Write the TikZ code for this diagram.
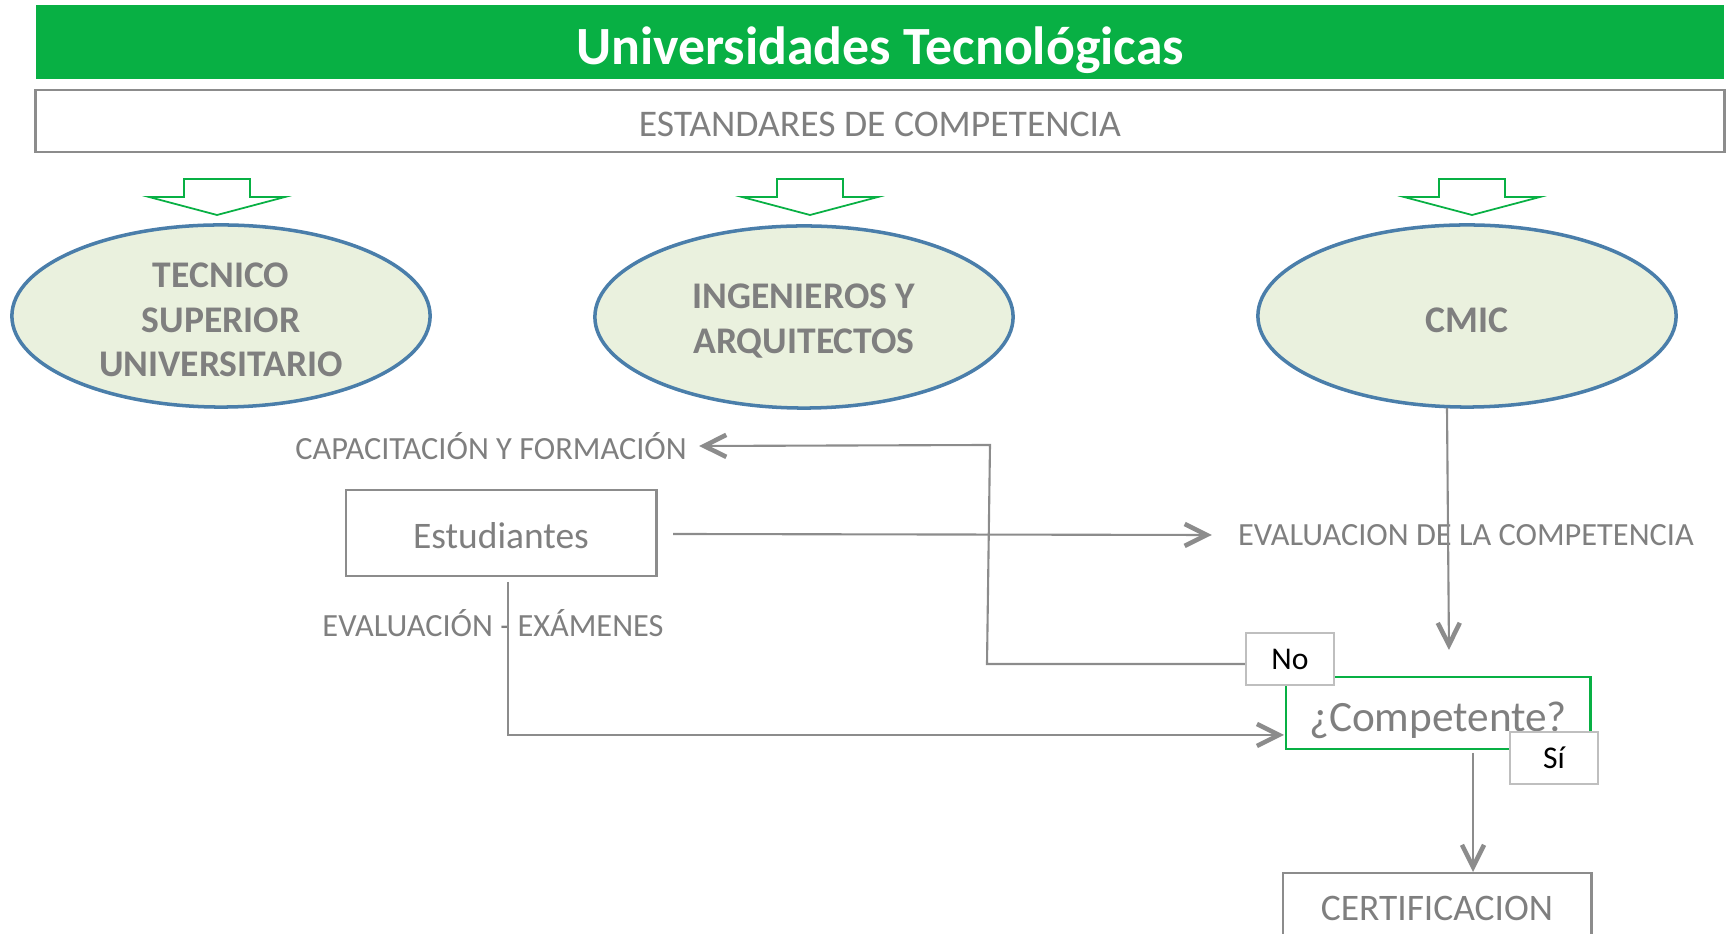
\documentclass[tikz,border=0pt]{standalone}
\usepackage{fontspec}
\setmainfont{Carlito}
\usetikzlibrary{arrows.meta,shapes.geometric}

\definecolor{utgreen}{RGB}{8,176,68}
\definecolor{txtgray}{RGB}{127,127,127}
\definecolor{linegray}{RGB}{140,140,140}
\definecolor{ovalfill}{RGB}{234,241,222}
\definecolor{ovalline}{RGB}{74,126,170}

\tikzset{
	oval/.style={ellipse, draw=ovalline, line width=1pt, fill=ovalfill,
		minimum width=4.18cm, minimum height=1.82cm, inner sep=0pt},
	ovaltext/.style={text=txtgray, align=center, font=\fontsize{10.7}{12.6}\selectfont\bfseries},
	graybox/.style={draw=linegray, line width=0.8pt},
	boxtext/.style={text=txtgray, font=\fontsize{10.65}{12}\selectfont},
	tag/.style={draw=black!25, line width=0.6pt, fill=white,
		minimum width=0.88cm, minimum height=0.52cm, font=\fontsize{9}{10}\selectfont},
	flow/.style={draw=linegray, line width=0.6pt,
		-{Straight Barb[length=2.2mm,width=2.2mm,line width=1.3pt]}},
	label/.style={text=txtgray, font=\fontsize{9.2}{11}\selectfont},
	downarrow/.style={draw=utgreen, line width=0.5pt, fill=white}
}

\begin{document}
\begin{tikzpicture}[x=0.01cm, y=-0.01cm]
	\clip (0,0) rectangle (1729,934);

	\node[fill=utgreen, minimum width=16.88cm, minimum height=0.74cm] (titulo) at (880,42) {};
	\node[text=white, font=\fontsize{15.3}{18}\selectfont\bfseries] (titulotxt) at (880,50) {Universidades Tecnológicas};
	\node[graybox, minimum width=16.88cm, minimum height=0.62cm] (estandares) at (880,121) {};
	\node[boxtext, font=\fontsize{10.7}{12}\selectfont] (estandarestxt) at (880,124) {ESTANDARES DE COMPETENCIA};

	% flechas de bloque
	\foreach \cx in {217,810,1472}
		\draw[downarrow] (\cx-33,179) -- (\cx+33,179) -- (\cx+33,197) -- (\cx+68,197)
			-- (\cx,215) -- (\cx-68,197) -- (\cx-33,197) -- cycle;

	\node[oval] (tsu) at (221,316) {};
	\node[ovaltext] (tsutxt) at (221,320) {TECNICO\\SUPERIOR\\UNIVERSITARIO};
	\node[oval] (ing) at (804,317) {};
	\node[ovaltext] (ingtxt) at (804,321) {INGENIEROS Y\\ARQUITECTOS};
	\node[oval] (cmic) at (1467,316) {};
	\node[ovaltext] (cmictxt) at (1467,320) {CMIC};

	\node[label] (capac) at (491,446) {CAPACITACIÓN Y FORMACIÓN};
	\node[graybox, minimum width=3.1cm, minimum height=0.86cm] (estud) at (501,533) {};
	\node[boxtext] (estudtxt) at (501,536) {Estudiantes};
	\node[label] (evalc) at (1466,535) {EVALUACION DE LA COMPETENCIA};
	\node[label] (examen) at (493,623) {EVALUACIÓN - EXÁMENES};

	\node[draw=utgreen, line width=0.8pt, minimum width=3.04cm, minimum height=0.72cm] (comp) at (1438,713) {};
	\node[text=txtgray, font=\fontsize{12.3}{14}\selectfont] (comptxt) at (1438,720) {¿Competente?};
	\node[graybox, minimum width=3.08cm, minimum height=0.8cm] (cert) at (1437,913) {};
	\node[boxtext] (certtxt) at (1437,908) {CERTIFICACION};

	\coordinate (ntop) at (990,445);
	\coordinate (nbot) at (987,664);
	\coordinate (estout) at (673,534);
	\coordinate (cmicout) at (1447,408);
	\coordinate (cmicin) at (1449,650);
	\coordinate (ebot) at (508,582);
	\coordinate (compin) at (1284,735);
	\coordinate (siout) at (1473,753);
	\coordinate (certin) at (1473,872);

	\draw[flow] (estout) -- ([xshift=-0.14cm]evalc.west);
	\draw[flow] (cmicout) -- (cmicin);
	\draw[flow] (ebot) |- (compin);
	\draw[flow] (siout) -- (certin);

	\node[tag] (no) at (1290,659) {No};
	\node[tag] (si) at (1554,758) {Sí};

	\draw[flow] (no.west |- nbot) -- (nbot) -- (ntop) -- (capac.east);
\end{tikzpicture}
\end{document}
